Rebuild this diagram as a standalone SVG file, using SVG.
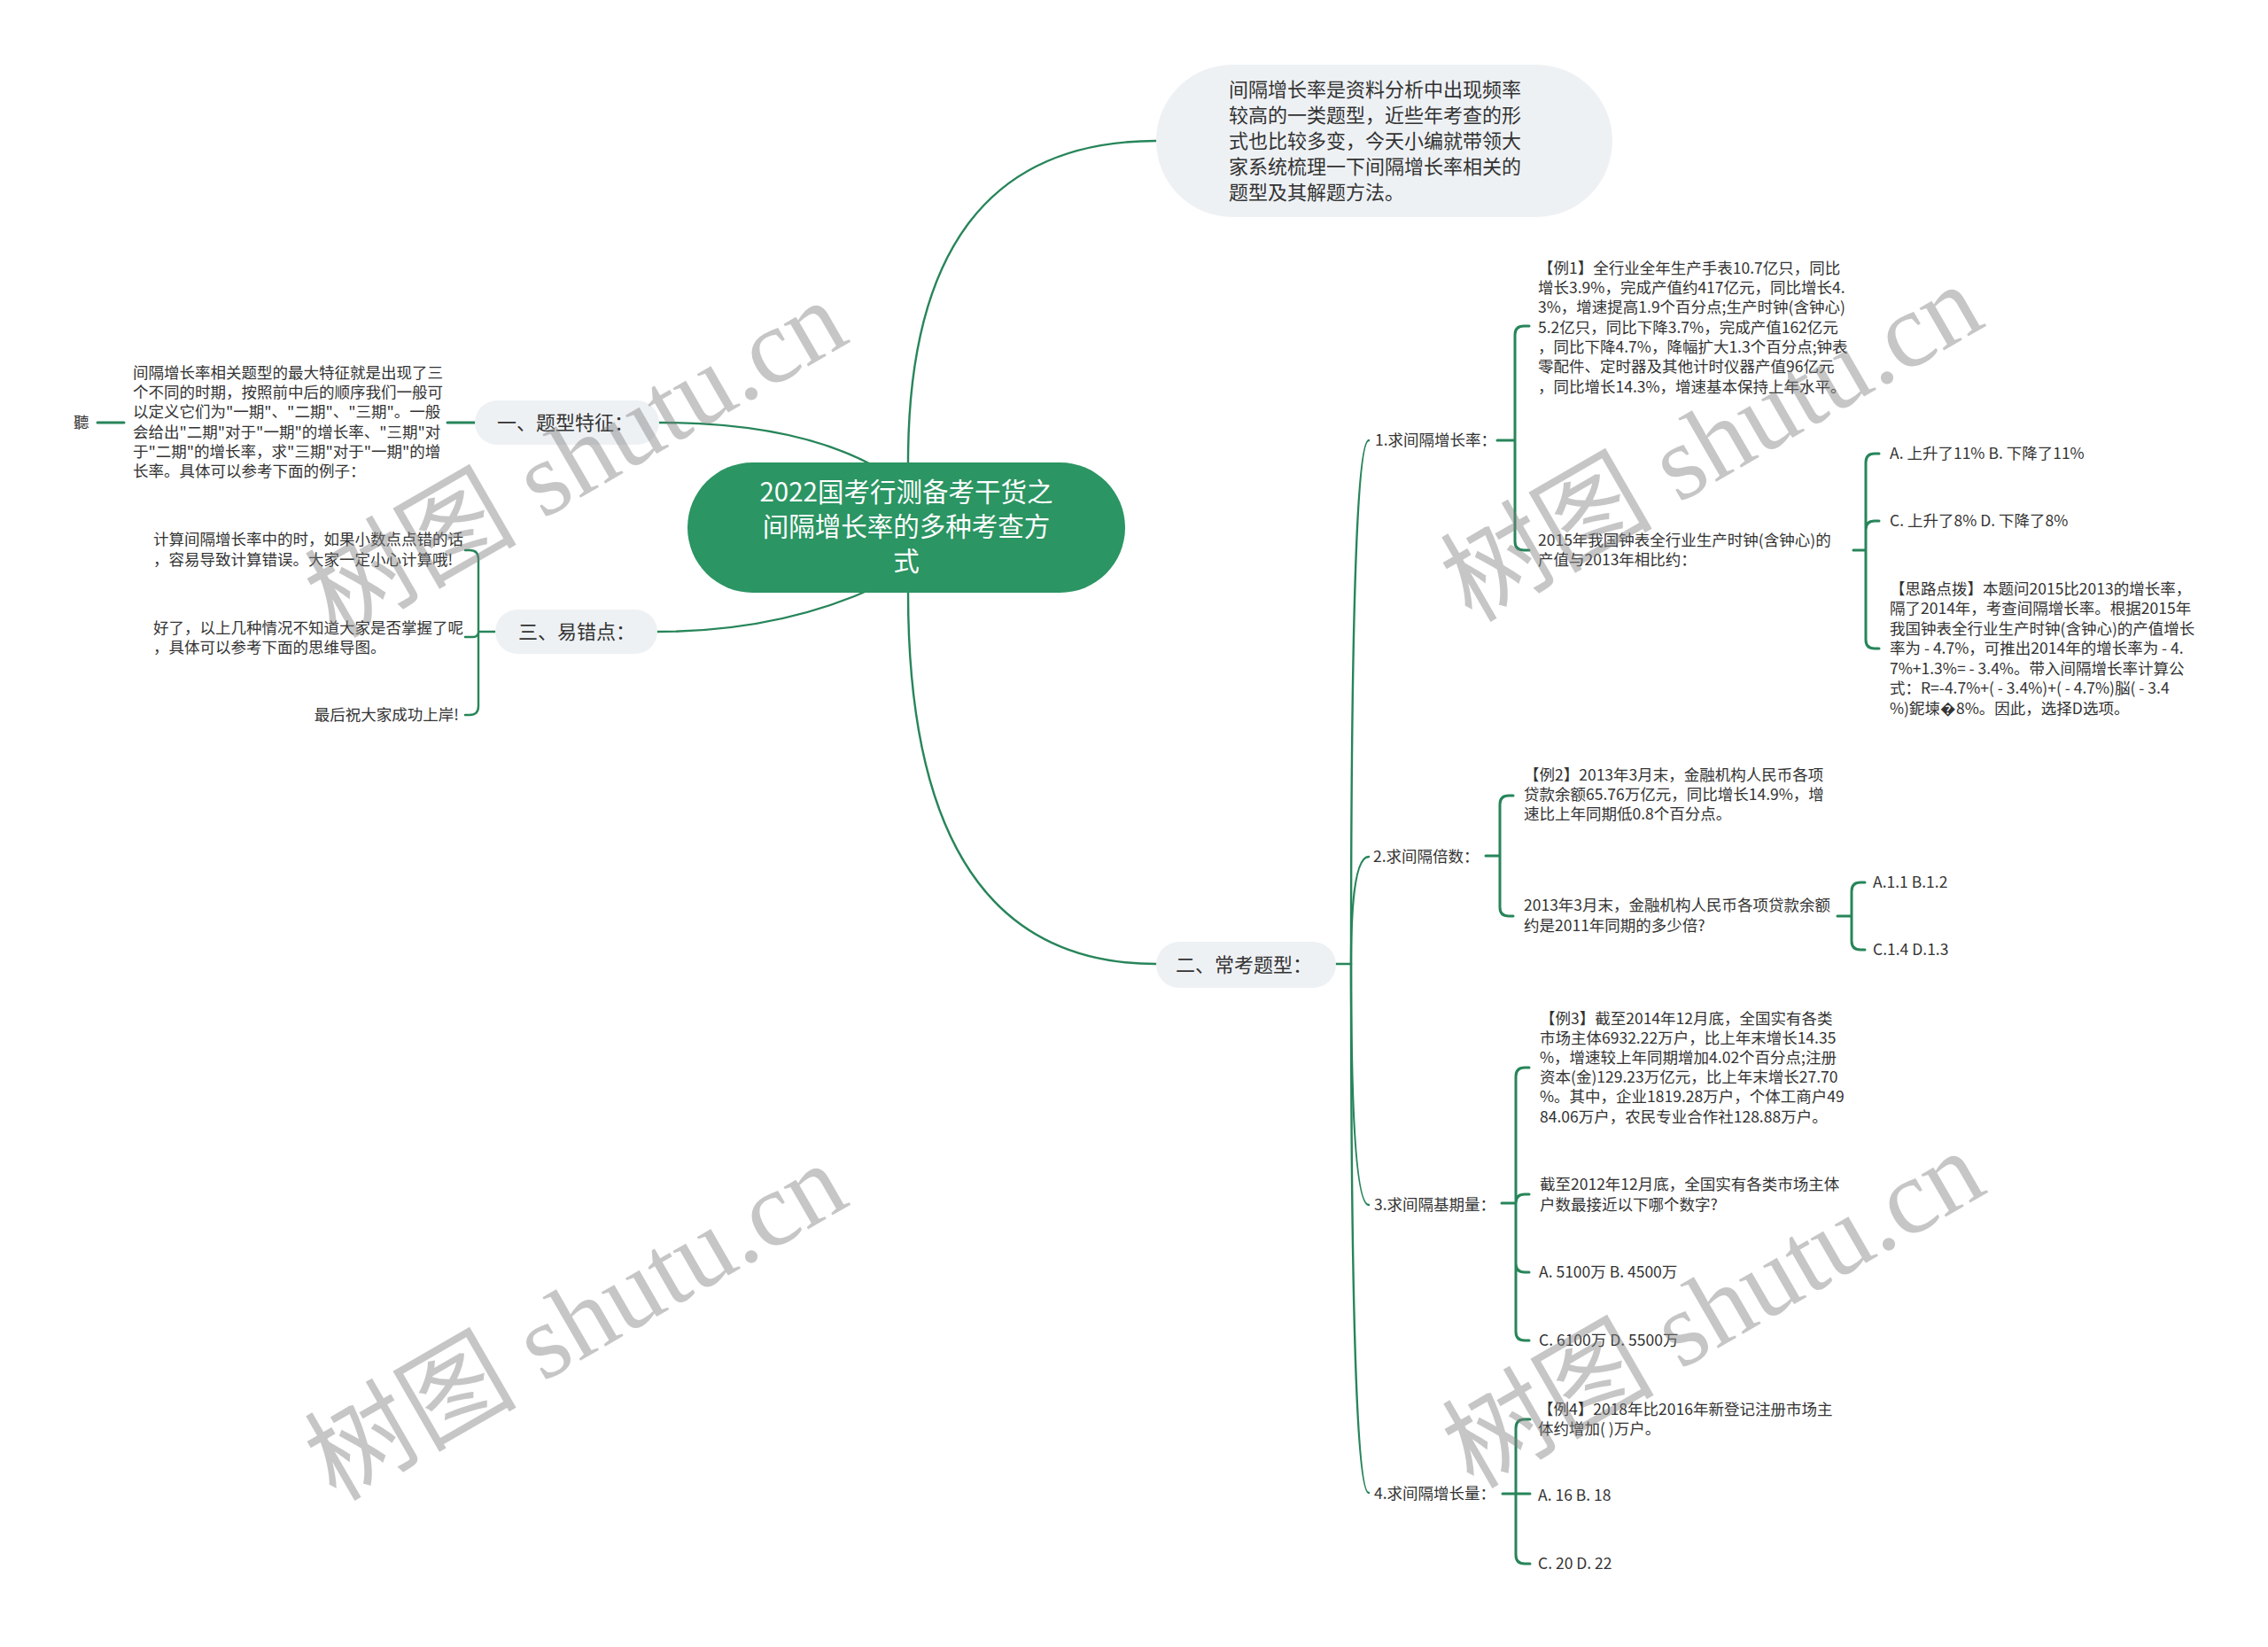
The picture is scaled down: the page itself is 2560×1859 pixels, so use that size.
<svg xmlns="http://www.w3.org/2000/svg" width="2560" height="1859" viewBox="0 0 2560 1859">
<style>
.t{font-family:"Noto Sans CJK SC","Liberation Sans",sans-serif;fill:#333;dominant-baseline:central;transform:translateY(-2px)}
.s{font-size:17.5px}
.m{font-size:22px}
.r{font-size:29.5px;fill:#fff}
.c{fill:none;stroke:#27855a;stroke-width:2.4;stroke-linecap:round}
.b{fill:none;stroke:#27855a;stroke-width:3;stroke-linecap:round;stroke-linejoin:round}
.pill{fill:#eef1f4}
.wm{font-family:"Liberation Serif","Noto Sans CJK SC",serif;font-size:120px;fill:#808080;fill-opacity:.45;dominant-baseline:central}
</style>
<rect width="2560" height="1859" fill="#fff"/>
<g id="connectors">
<path class="c" d="M1025,522 Q1025,159 1305,159"/>
<path class="c" d="M1025,669 Q1025,1088 1305,1088"/>
<path class="c" d="M744,477 Q900,477 990,528"/>
<path class="c" d="M742,713 Q880,713 990,662"/>
<path class="c" d="M1508,1088 L1525,1088"/>
<path class="c" d="M1525,1088 Q1525,497 1545,497"/>
<path class="c" d="M1525,1088 Q1525,967 1545,967"/>
<path class="c" d="M1525,1088 Q1525,1360 1545,1360"/>
<path class="c" d="M1525,1088 Q1525,1685 1545,1685"/>
<path class="b" d="M536,477 L505,477"/>
<path class="b" d="M140,477 L110,477"/>
<path class="c" d="M559,713 L540,713 M540,713 L540,631 Q540,621 530,621 L525,621 M540,713 Q540,719 534,719 L525,719 M540,713 L540,797 Q540,807 530,807 L525,807"/>
<path class="b" d="M1690,497 L1710,497 M1710,497 L1710,378 Q1710,368 1720,368 L1726,368 M1710,497 L1710,611 Q1710,621 1720,621 L1726,621"/>
<path class="b" d="M2092,621 L2106,621 M2106,621 L2106,522 Q2106,512 2116,512 L2121,512 M2106,621 L2106,598 Q2106,588 2116,588 L2121,588 M2106,621 L2106,722 Q2106,732 2116,732 L2121,732"/>
<path class="b" d="M1677,966 L1693,966 M1693,966 L1693,908 Q1693,898 1703,898 L1708,898 M1693,966 L1693,1024 Q1693,1034 1703,1034 L1708,1034"/>
<path class="b" d="M2074,1034 L2090,1034 M2090,1034 L2090,1006 Q2090,996 2100,996 L2105,996 M2090,1034 L2090,1062 Q2090,1072 2100,1072 L2105,1072"/>
<path class="b" d="M1695,1358 L1711,1358 M1711,1358 L1711,1215 Q1711,1205 1721,1205 L1726,1205 M1711,1358 Q1711,1348 1721,1348 L1726,1348 M1711,1358 L1711,1426 Q1711,1436 1721,1436 L1726,1436 M1711,1358 L1711,1503 Q1711,1513 1721,1513 L1726,1513"/>
<path class="b" d="M1696,1686 L1727,1686 M1711,1686 L1711,1612 Q1711,1602 1721,1602 L1727,1602 M1711,1686 L1711,1755 Q1711,1765 1721,1765 L1727,1765"/>
</g>
<g id="root">
<rect x="776" y="522" width="494" height="147" rx="73.5" fill="#2b9563"/>
<text class="t r" text-anchor="middle"><tspan x="1023" y="555">2022国考行测备考干货之</tspan><tspan x="1023" y="594">间隔增长率的多种考查方</tspan><tspan x="1023" y="633">式</tspan></text>
</g>
<g id="intro">
<rect class="pill" x="1305" y="73" width="515" height="172" rx="86"/>
<text class="t m"><tspan x="1387" y="101">间隔增长率是资料分析中出现频率</tspan><tspan x="1387" y="130">较高的一类题型，近些年考查的形</tspan><tspan x="1387" y="159">式也比较多变，今天小编就带领大</tspan><tspan x="1387" y="188">家系统梳理一下间隔增长率相关的</tspan><tspan x="1387" y="217">题型及其解题方法。</tspan></text>
</g>
<g id="t1">
<rect class="pill" x="536" y="452" width="208" height="50" rx="25"/>
<text class="t m" x="561" y="477">一、题型特征：</text>
</g>
<g id="t1-desc">
<text class="t s"><tspan x="150" y="421">间隔增长率相关题型的最大特征就是出现了三</tspan><tspan x="150" y="443">个不同的时期，按照前中后的顺序我们一般可</tspan><tspan x="150" y="465">以定义它们为"一期"、"二期"、"三期"。一般</tspan><tspan x="150" y="488">会给出"二期"对于"一期"的增长率、"三期"对</tspan><tspan x="150" y="510">于"二期"的增长率，求"三期"对于"一期"的增</tspan><tspan x="150" y="532">长率。具体可以参考下面的例子：</tspan></text>
</g>
<g id="t1-leaf">
<text class="t s" x="83" y="477">聽</text>
</g>
<g id="t3">
<rect class="pill" x="559" y="688" width="183" height="50" rx="25"/>
<text class="t m" x="585" y="713">三、易错点：</text>
</g>
<g id="t3-a">
<text class="t s"><tspan x="173" y="609">计算间隔增长率中的时，如果小数点点错的话</tspan><tspan x="173" y="632">，容易导致计算错误。大家一定小心计算哦!</tspan></text>
</g>
<g id="t3-b">
<text class="t s"><tspan x="173" y="709">好了，以上几种情况不知道大家是否掌握了呢</tspan><tspan x="173" y="731">，具体可以参考下面的思维导图。</tspan></text>
</g>
<g id="t3-c">
<text class="t s" x="518" y="807" text-anchor="end">最后祝大家成功上岸!</text>
</g>
<g id="t2">
<rect class="pill" x="1305" y="1063" width="203" height="52" rx="26"/>
<text class="t m" x="1327" y="1089">二、常考题型：</text>
</g>
<g id="q1"><text class="t s" x="1552" y="497">1.求间隔增长率：</text></g>
<g id="q1-ex"><text class="t s"><tspan x="1736" y="303">【例1】全行业全年生产手表10.7亿只，同比</tspan><tspan x="1736" y="325">增长3.9%，完成产值约417亿元，同比增长4.</tspan><tspan x="1736" y="347">3%，增速提高1.9个百分点;生产时钟(含钟心)</tspan><tspan x="1736" y="370">5.2亿只，同比下降3.7%，完成产值162亿元</tspan><tspan x="1736" y="392">，同比下降4.7%，降幅扩大1.3个百分点;钟表</tspan><tspan x="1736" y="414">零配件、定时器及其他计时仪器产值96亿元</tspan><tspan x="1736" y="437">，同比增长14.3%，增速基本保持上年水平。</tspan></text></g>
<g id="q1-q"><text class="t s"><tspan x="1736" y="610">2015年我国钟表全行业生产时钟(含钟心)的</tspan><tspan x="1736" y="632">产值与2013年相比约：</tspan></text></g>
<g id="q1-ab"><text class="t s" x="2133" y="512">A. 上升了11% B. 下降了11%</text></g>
<g id="q1-cd"><text class="t s" x="2133" y="588">C. 上升了8% D. 下降了8%</text></g>
<g id="q1-tip"><text class="t s"><tspan x="2133" y="665">【思路点拨】本题问2015比2013的增长率，</tspan><tspan x="2133" y="687">隔了2014年，考查间隔增长率。根据2015年</tspan><tspan x="2133" y="710">我国钟表全行业生产时钟(含钟心)的产值增长</tspan><tspan x="2133" y="732">率为 - 4.7%，可推出2014年的增长率为 - 4.</tspan><tspan x="2133" y="755">7%+1.3%= - 3.4%。带入间隔增长率计算公</tspan><tspan x="2133" y="777">式：R=-4.7%+( - 3.4%)+( - 4.7%)脳( - 3.4</tspan><tspan x="2133" y="800">%)鈮堜�8%。因此，选择D选项。</tspan></text></g>
<g id="q2"><text class="t s" x="1550" y="967">2.求间隔倍数：</text></g>
<g id="q2-ex"><text class="t s"><tspan x="1720" y="875">【例2】2013年3月末，金融机构人民币各项</tspan><tspan x="1720" y="897">贷款余额65.76万亿元，同比增长14.9%，增</tspan><tspan x="1720" y="919">速比上年同期低0.8个百分点。</tspan></text></g>
<g id="q2-q"><text class="t s"><tspan x="1720" y="1022">2013年3月末，金融机构人民币各项贷款余额</tspan><tspan x="1720" y="1045">约是2011年同期的多少倍?</tspan></text></g>
<g id="q2-ab"><text class="t s" x="2114" y="996">A.1.1 B.1.2</text></g>
<g id="q2-cd"><text class="t s" x="2114" y="1072">C.1.4 D.1.3</text></g>
<g id="q3"><text class="t s" x="1551" y="1360">3.求间隔基期量：</text></g>
<g id="q3-ex"><text class="t s"><tspan x="1738" y="1150">【例3】截至2014年12月底，全国实有各类</tspan><tspan x="1738" y="1172">市场主体6932.22万户，比上年末增长14.35</tspan><tspan x="1738" y="1194">%，增速较上年同期增加4.02个百分点;注册</tspan><tspan x="1738" y="1216">资本(金)129.23万亿元，比上年末增长27.70</tspan><tspan x="1738" y="1238">%。其中，企业1819.28万户，个体工商户49</tspan><tspan x="1738" y="1261">84.06万户，农民专业合作社128.88万户。</tspan></text></g>
<g id="q3-q"><text class="t s"><tspan x="1738" y="1337">截至2012年12月底，全国实有各类市场主体</tspan><tspan x="1738" y="1360">户数最接近以下哪个数字?</tspan></text></g>
<g id="q3-ab"><text class="t s" x="1737" y="1436">A. 5100万 B. 4500万</text></g>
<g id="q3-cd"><text class="t s" x="1737" y="1513">C. 6100万 D. 5500万</text></g>
<g id="q4"><text class="t s" x="1551" y="1686">4.求间隔增长量：</text></g>
<g id="q4-ex"><text class="t s"><tspan x="1736" y="1591">【例4】2018年比2016年新登记注册市场主</tspan><tspan x="1736" y="1613">体约增加( )万户。</tspan></text></g>
<g id="q4-ab"><text class="t s" x="1736" y="1688">A. 16 B. 18</text></g>
<g id="q4-cd"><text class="t s" x="1736" y="1765">C. 20 D. 22</text></g>
<g id="watermarks">
<text class="wm" x="650" y="518" text-anchor="middle" transform="rotate(-30 650 518)">树图 shutu.cn</text>
<text class="wm" x="1932" y="500" text-anchor="middle" transform="rotate(-30 1932 500)">树图 shutu.cn</text>
<text class="wm" x="650" y="1492" text-anchor="middle" transform="rotate(-30 650 1492)">树图 shutu.cn</text>
<text class="wm" x="1934" y="1478" text-anchor="middle" transform="rotate(-30 1934 1478)">树图 shutu.cn</text>
</g>
</svg>
